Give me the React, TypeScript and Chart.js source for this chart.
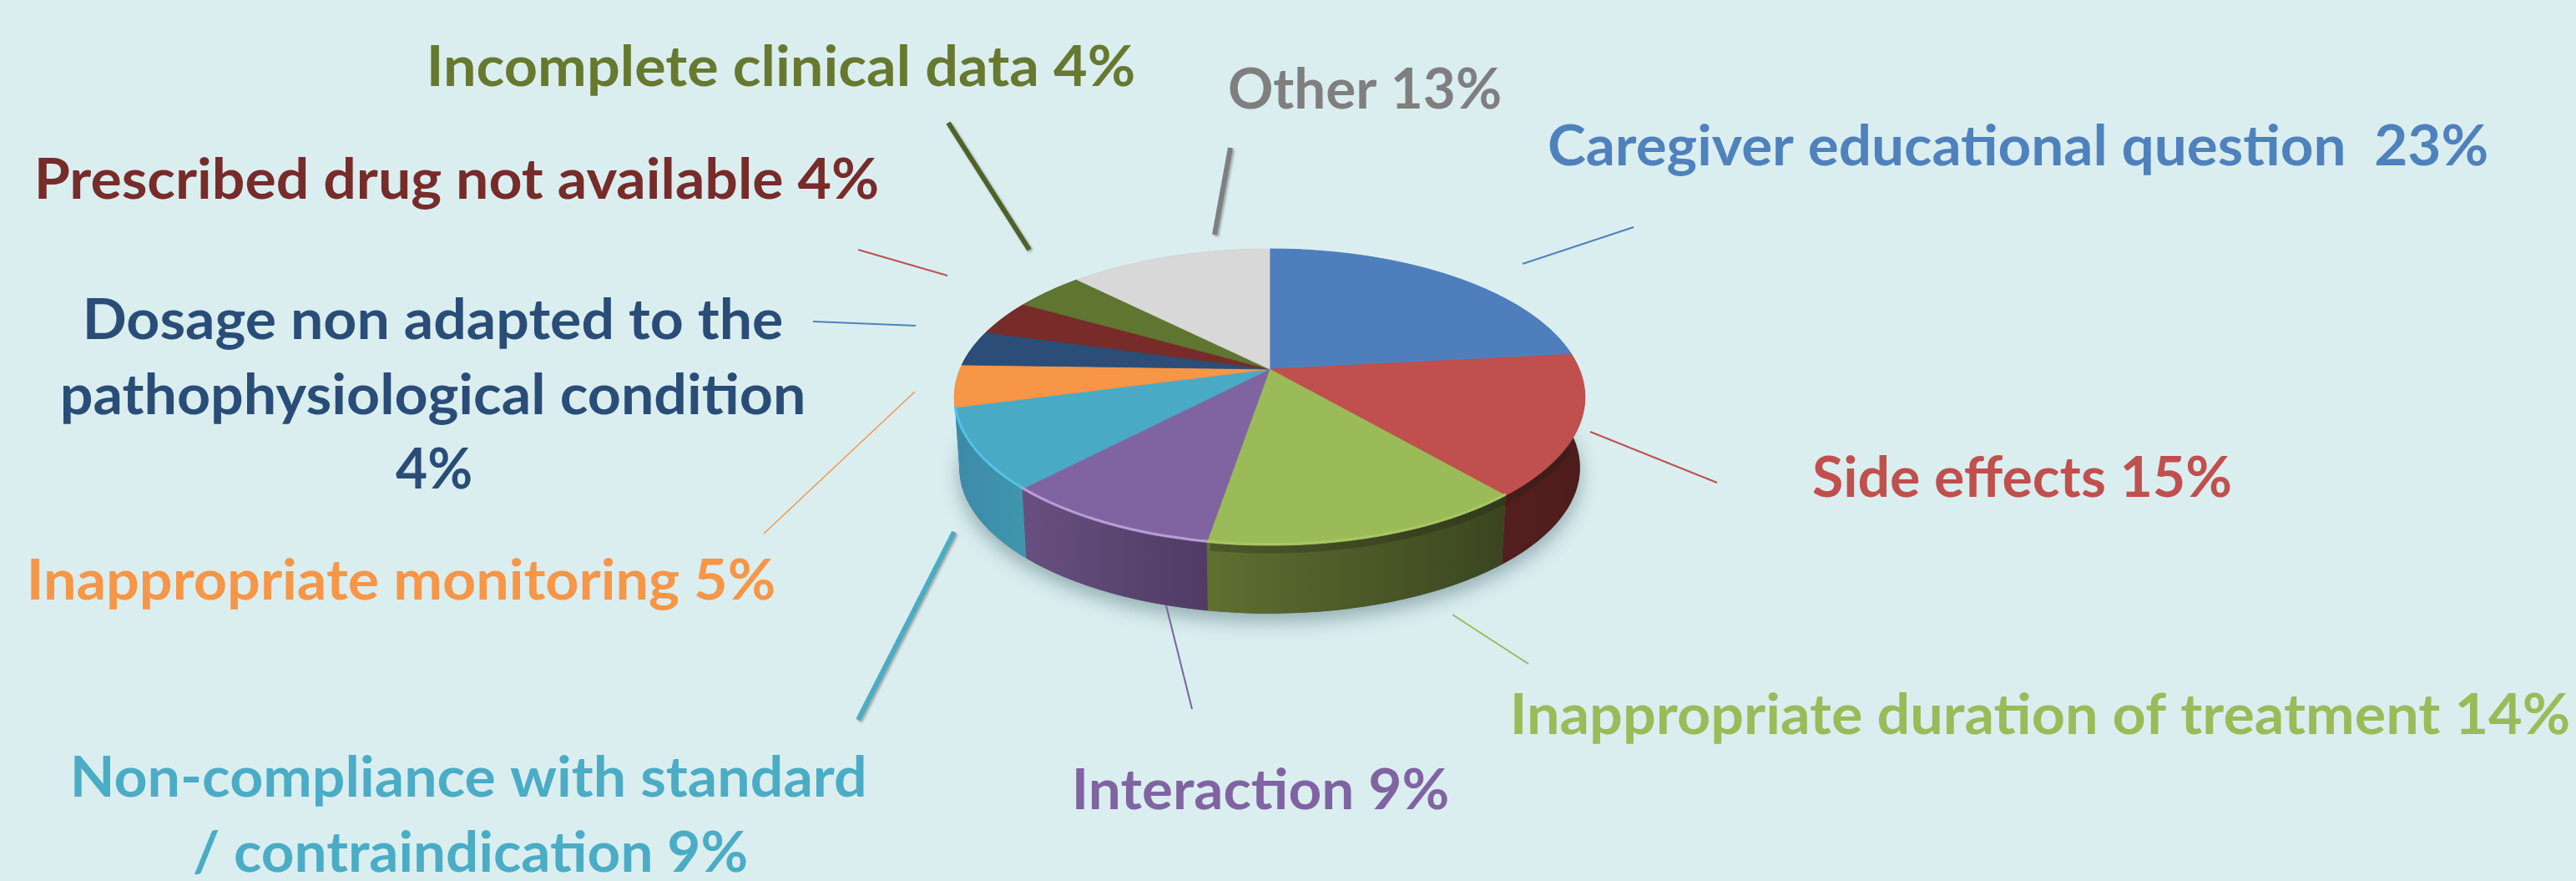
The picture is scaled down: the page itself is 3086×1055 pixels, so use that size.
import React, { useEffect, useRef } from "react";
import { Chart, registerables } from "chart.js";

Chart.register(...registerables);

// ---- data (clockwise from 12 o'clock) ----
const categories = [
  "Caregiver educational question",
  "Side effects",
  "Inappropriate duration of treatment",
  "Interaction",
  "Non-compliance with standard / contraindication",
  "Inappropriate monitoring",
  "Dosage non adapted to the pathophysiological condition",
  "Prescribed drug not available",
  "Incomplete clinical data",
  "Other",
];
const shareValues = [23.4, 15.4, 14.0, 9.5, 8.8, 4.6, 3.9, 3.9, 4.3, 12.5];
const sliceColors = ["#4e7fbc", "#c0504d", "#9bbb59", "#8064a2", "#4aaac6", "#f79646", "#2b4d77", "#772c2a", "#5f7530", "#d8d8d8"];
const textColors = ["#4f81bd", "#c0504d", "#9bbb59", "#8064a2", "#4bacc6", "#f79646", "#2a4d78", "#772c2a", "#67792f", "#7f7f7f"];
const sideLeftColors = ["#2f4f75", "#541f1e", "#5f7031", "#67507f", "#3d8aa8", "#3d8aa8", "#1c324d", "#4e1c1b", "#3d4c1f", "#8a8a8a"];
const sideRightColors = ["#2f4f75", "#4c1d1c", "#3a451f", "#4f3b64", "#3f96ae", "#3d8aa8", "#1c324d", "#4e1c1b", "#3d4c1f", "#8a8a8a"];
const rimColors = ["#4e7fbc", "#c0504d", "#a8c763", "#b79cd6", "#50c4e6", "#f79646", "#2b4d77", "#772c2a", "#5f7530", "#d8d8d8"];

// ---- layout ----
const W = 3086;
const H = 1055;
const BG = "#daeef0";
const PIE = { cx: 1521, cy: 442, a: 371, b: 171.2, k: 0.189, depth: 85, bottomScale: 0.984 };
const FONT = '700 66px Lato, "Open Sans", sans-serif';

const labelBlocks = [
  { s: 0, text: "Caregiver educational question  23%", left: 1856, right: 2979, base: 198 },
  { s: 1, text: "Side effects 15%", left: 2172, right: 2672, base: 595 },
  { s: 2, text: "Inappropriate duration of treatment 14%", left: 1814, right: 3077, base: 879 },
  { s: 3, text: "Interaction 9%", left: 1289, right: 1734, base: 969 },
  { s: 4, text: "Non-compliance with standard", left: 89, right: 1035, base: 954 },
  { s: 4, text: "/ contraindication 9%", left: 232, right: 894, base: 1044 },
  { s: 5, text: "Inappropriate monitoring 5%", left: 37, right: 927, base: 718 },
  { s: 6, text: "Dosage non adapted to the", left: 104, right: 937, base: 406 },
  { s: 6, text: "pathophysiological condition", left: 76, right: 962, base: 496 },
  { s: 6, text: "4%", left: 474, right: 564, base: 585 },
  { s: 7, text: "Prescribed drug not available 4%", left: 46, right: 1051, base: 238 },
  { s: 8, text: "Incomplete clinical data 4%", left: 516, right: 1358, base: 103 },
  { s: 9, text: "Other 13%", left: 1473, right: 1797, base: 130 },
];

const leaderLines = [
  { color: "#4f81bd", w: 2, shadow: false, p: [1824, 316, 1957, 272] },
  { color: "#c0504d", w: 2, shadow: false, p: [1905, 517, 2057, 578] },
  { color: "#9bbb59", w: 2, shadow: false, p: [1740, 736, 1831, 795] },
  { color: "#8064a2", w: 2, shadow: false, p: [1397, 725, 1428, 849] },
  { color: "#4bacc6", w: 6, shadow: true, p: [1143, 637, 1028, 862] },
  { color: "#f79646", w: 1.5, shadow: false, p: [1096, 469, 915, 639] },
  { color: "#4f81bd", w: 2, shadow: false, p: [974, 385, 1097, 390] },
  { color: "#c0504d", w: 2, shadow: false, p: [1028, 299, 1135, 330] },
  { color: "#4f6228", w: 6, shadow: true, p: [1136, 147, 1233, 299] },
  { color: "#7f7f7f", w: 6, shadow: true, p: [1474, 177, 1455, 281] },
];

// ---- projection of the pie's plane onto the tilted disc ----
function project(angle: number, bottom: boolean): [number, number] {
  const u = Math.cos(angle);
  const v = Math.sin(angle);
  const w = 1 - PIE.k * v;
  const s = bottom ? PIE.bottomScale : 1;
  return [PIE.cx + (s * PIE.a * u) / w, PIE.cy + (bottom ? PIE.depth : 0) + (s * PIE.b * v) / w];
}

function rimPoints(a0: number, a1: number, bottom: boolean) {
  const n = Math.max(2, Math.ceil(Math.abs(a1 - a0) / 0.02));
  const pts: [number, number][] = [];
  for (let i = 0; i <= n; i++) pts.push(project(a0 + ((a1 - a0) * i) / n, bottom));
  return pts;
}

const pie3d = {
  id: "pie3d",
  beforeDraw(chart: any) {
    const ctx = chart.ctx;
    ctx.save();
    ctx.fillStyle = BG;
    ctx.fillRect(0, 0, W, H);
    ctx.restore();
  },
  beforeDatasetsDraw(chart: any) {
    const ctx: CanvasRenderingContext2D = chart.ctx;
    const arcs = chart.getDatasetMeta(0).data as any[];

    // soft shadow under the disc
    ctx.save();
    ctx.shadowColor = "rgba(50,85,90,0.42)";
    ctx.shadowBlur = 22;
    ctx.shadowOffsetY = 10;
    ctx.fillStyle = "#5b6b6d";
    ctx.beginPath();
    rimPoints(0, Math.PI * 2, true).forEach(([x, y], i) => (i ? ctx.lineTo(x, y) : ctx.moveTo(x, y)));
    ctx.closePath();
    ctx.fill();
    ctx.restore();

    // side wall
    arcs.forEach((arc, i) => {
      const { startAngle, endAngle } = arc;
      const top = rimPoints(startAngle, endAngle, false);
      const bot = rimPoints(startAngle, endAngle, true);
      const xs = top.concat(bot).map((p) => p[0]);
      const g = ctx.createLinearGradient(Math.min(...xs), 0, Math.max(...xs), 0);
      g.addColorStop(0, sideLeftColors[i]);
      g.addColorStop(1, sideRightColors[i]);
      ctx.beginPath();
      top.forEach(([x, y], j) => (j ? ctx.lineTo(x, y) : ctx.moveTo(x, y)));
      bot.reverse().forEach(([x, y]) => ctx.lineTo(x, y));
      ctx.closePath();
      ctx.fillStyle = g;
      ctx.fill();
    });

    // dark soft band below the front rim
    ctx.save();
    ctx.strokeStyle = "rgba(30,30,20,0.28)";
    ctx.lineWidth = 9;
    ctx.beginPath();
    rimPoints(Math.PI * 0.16, Math.PI * 0.55, false).forEach(([x, y], j) => (j ? ctx.lineTo(x, y + 5) : ctx.moveTo(x, y + 5)));
    ctx.stroke();
    ctx.restore();

    // top face
    arcs.forEach((arc, i) => {
      const { startAngle, endAngle } = arc;
      ctx.beginPath();
      ctx.moveTo(PIE.cx, PIE.cy);
      rimPoints(startAngle, endAngle, false).forEach(([x, y]) => ctx.lineTo(x, y));
      ctx.closePath();
      ctx.fillStyle = sliceColors[i];
      ctx.fill();
      ctx.strokeStyle = sliceColors[i];
      ctx.lineWidth = 0.8;
      ctx.stroke();
    });

    // bevel on the visible front edge
    arcs.forEach((arc, i) => {
      if (i < 2 || i > 4) return;
      ctx.beginPath();
      rimPoints(arc.startAngle, arc.endAngle, false).forEach(([x, y], j) =>
        j ? ctx.lineTo(x, y - 1.5) : ctx.moveTo(x, y - 1.5)
      );
      ctx.strokeStyle = rimColors[i];
      ctx.lineWidth = 3;
      ctx.stroke();
    });
    return false;
  },
  afterDraw(chart: any) {
    const ctx: CanvasRenderingContext2D = chart.ctx;
    leaderLines.forEach((l) => {
      ctx.save();
      if (l.shadow) {
        ctx.shadowColor = "rgba(0,0,0,0.3)";
        ctx.shadowBlur = 3;
        ctx.shadowOffsetX = 2;
        ctx.shadowOffsetY = 2;
      }
      ctx.strokeStyle = l.color;
      ctx.lineWidth = l.w;
      ctx.beginPath();
      ctx.moveTo(l.p[0], l.p[1]);
      ctx.lineTo(l.p[2], l.p[3]);
      ctx.stroke();
      ctx.restore();
    });
    ctx.font = FONT;
    ctx.textBaseline = "alphabetic";
    ctx.textAlign = "left";
    labelBlocks.forEach((b) => {
      const m = ctx.measureText(b.text);
      const ink = m.actualBoundingBoxRight + m.actualBoundingBoxLeft;
      const sx = (b.right - b.left) / ink;
      ctx.save();
      ctx.translate(b.left + m.actualBoundingBoxLeft * sx, b.base);
      ctx.scale(sx, 1);
      ctx.fillStyle = textColors[b.s];
      ctx.fillText(b.text, 0, 0);
      ctx.restore();
    });
  },
};

export default function App() {
  const ref = useRef<HTMLCanvasElement>(null);
  useEffect(() => {
    document.body.style.margin = "0";
    document.body.style.background = BG;
    const chart = new Chart(ref.current as HTMLCanvasElement, {
      type: "pie",
      data: {
        labels: categories,
        datasets: [{ data: shareValues, backgroundColor: sliceColors, borderWidth: 0 }],
      },
      options: {
        animation: false,
        responsive: false,
        devicePixelRatio: 1,
        rotation: 0,
        plugins: { legend: { display: false }, tooltip: { enabled: false } },
      },
      plugins: [pie3d],
    } as any);
    return () => chart.destroy();
  }, []);
  return <canvas ref={ref} width={W} height={H} style={{ display: "block", width: W, height: H }} />;
}
